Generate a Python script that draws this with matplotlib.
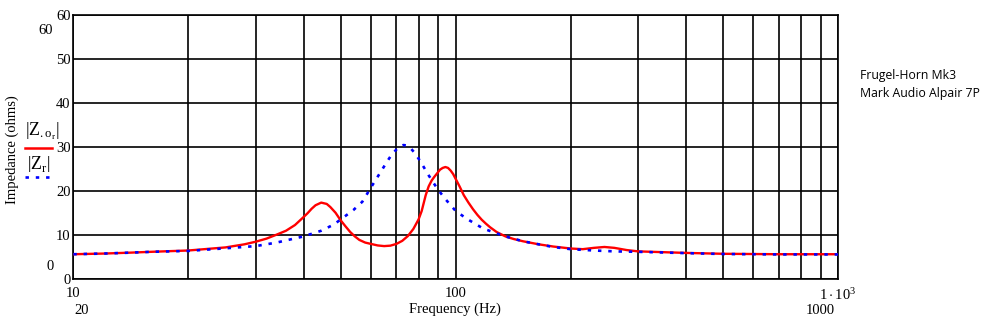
import numpy as np
import matplotlib.pyplot as plt

# values
freq_or = [10, 12, 14, 16, 20, 25, 28, 30, 32, 34, 36, 38, 40, 41, 42, 43, 44.5, 46, 47, 48.5,
           50, 51.5, 53, 54.5, 56, 58, 60, 62.5, 65, 67.5, 70, 72.5, 75, 77.5, 80, 81.5, 83.5,
           85, 86.5, 88, 89.5, 91, 92.5, 94, 95.5, 97, 98.5, 100, 102.5, 105, 108, 111, 114,
           117, 120, 123, 128, 135, 142, 150, 165, 180, 200, 215, 230, 245, 260, 280, 300,
           400, 500, 700, 1000]
z_or = [5.55, 5.7, 5.9, 6.1, 6.4, 7.1, 7.8, 8.4, 9.1, 10.0, 10.9, 12.2, 14.0, 14.9, 15.9, 16.7,
        17.3, 17.0, 16.3, 15.0, 13.3, 11.9, 10.6, 9.6, 8.8, 8.2, 7.9, 7.55, 7.4, 7.5, 7.9, 8.6,
        9.7, 11.3, 13.5, 15.4, 19.0, 21.0, 22.3, 23.2, 24.0, 24.8, 25.2, 25.4, 25.2, 24.6, 23.8,
        22.7, 20.9, 19.0, 17.3, 15.8, 14.5, 13.4, 12.5, 11.7, 10.6, 9.6, 9.0, 8.5, 7.8, 7.3,
        6.85, 6.7, 7.0, 7.2, 7.0, 6.5, 6.2, 5.85, 5.65, 5.55, 5.55]

freq_r = [10, 12, 14, 16, 20, 25, 30, 34, 40, 44.5, 48, 51, 54, 57, 60, 62, 64, 66, 68, 70,
          71.5, 73, 74.5, 76, 78, 80, 82.5, 85, 87.5, 90, 94, 100, 107, 118, 128, 135, 150,
          165, 180, 200, 230, 260, 300, 400, 500, 700, 1000]
z_r = [5.55, 5.7, 5.9, 6.1, 6.3, 6.9, 7.4, 8.2, 9.6, 10.9, 12.3, 14.0, 15.6, 17.5, 20.7, 22.7,
       24.6, 26.5, 28.2, 29.4, 30.1, 30.4, 30.3, 29.8, 28.7, 27.3, 25.4, 23.5, 21.8, 20.2, 18.1,
       15.4, 13.6, 11.4, 10.3, 9.6, 8.5, 7.8, 7.2, 6.7, 6.4, 6.2, 6.1, 5.8, 5.6, 5.5, 5.5]

plt.rcParams['font.family'] = 'Liberation Serif'
plt.rcParams['mathtext.fontset'] = 'custom'
plt.rcParams['mathtext.rm'] = 'Liberation Serif'
plt.rcParams['mathtext.it'] = 'Liberation Serif'

fig = plt.figure(figsize=(10.06, 3.27), dpi=100)
ax = fig.add_axes([0.0729, 0.148, 0.7601, 0.806])

ax.plot(freq_or, z_or, color='red', lw=1.7, zorder=3)
ax.plot(freq_r, z_r, color='blue', lw=1.9, linestyle=(0, (1.3, 2.6)), zorder=3)

ax.set_xscale('log')
ax.set_xlim(10, 1000)
ax.set_ylim(0, 60)
ax.set_yticks(range(0, 61, 10))
ax.set_xticks([10, 100, 1000])
ax.set_xticklabels(['10', '100', r'$1\cdot10^3$'])
ax.xaxis.set_minor_locator(plt.matplotlib.ticker.LogLocator(base=10, subs=np.arange(2, 10)))
ax.xaxis.set_minor_formatter(plt.NullFormatter())
ax.grid(True, which='both', color='black', lw=1.2)
ax.tick_params(which='both', length=0, labelsize=10.5)
ax.tick_params(axis='x', pad=6)
ax.tick_params(axis='y', pad=2)
for s in ax.spines.values():
    s.set_color('black')
    s.set_linewidth(1.2)

fig.text(455 / 1006, 1 - 309 / 327, 'Frequency (Hz)', ha='center', va='center', fontsize=10.5)
fig.text(12 / 1006, 1 - 150 / 327, 'Impedance (ohms)', rotation=90, ha='center', va='center', fontsize=10.5)

# Mathcad-style limit labels
fig.text(46 / 1006, 1 - 31 / 327, '60', ha='center', va='center', fontsize=10.5)
fig.text(50 / 1006, 1 - 266 / 327, '0', ha='center', va='center', fontsize=10.5)
fig.text(82 / 1006, 1 - 310 / 327, '20', ha='center', va='center', fontsize=10.5)
fig.text(820 / 1006, 1 - 311 / 327, '1000', ha='center', va='center', fontsize=10.5)

# legend
fig.text(42 / 1006, 1 - 131 / 327, r'$\left|\mathrm{Z}_{.\mathrm{o}_{\mathrm{r}}}\right|$', ha='center', va='center', fontsize=13)
fig.text(39 / 1006, 1 - 164 / 327, r'$\left|\mathrm{Z}_{\mathrm{r}}\right|$', ha='center', va='center', fontsize=13)
fig.add_artist(plt.Line2D([25 / 1006, 52 / 1006], [1 - 148 / 327] * 2, color='red', lw=1.8))
fig.add_artist(plt.Line2D([25 / 1006, 50 / 1006], [1 - 177 / 327] * 2, color='blue', lw=1.9,
                          linestyle=(0, (1.3, 2.6))))

fig.text(860 / 1006, 1 - 84 / 327, 'Frugel-Horn Mk3\nMark Audio Alpair 7P', ha='left', va='center',
         fontsize=8.8, family='Open Sans', linespacing=1.5)

fig.savefig('out.png', dpi=100)
